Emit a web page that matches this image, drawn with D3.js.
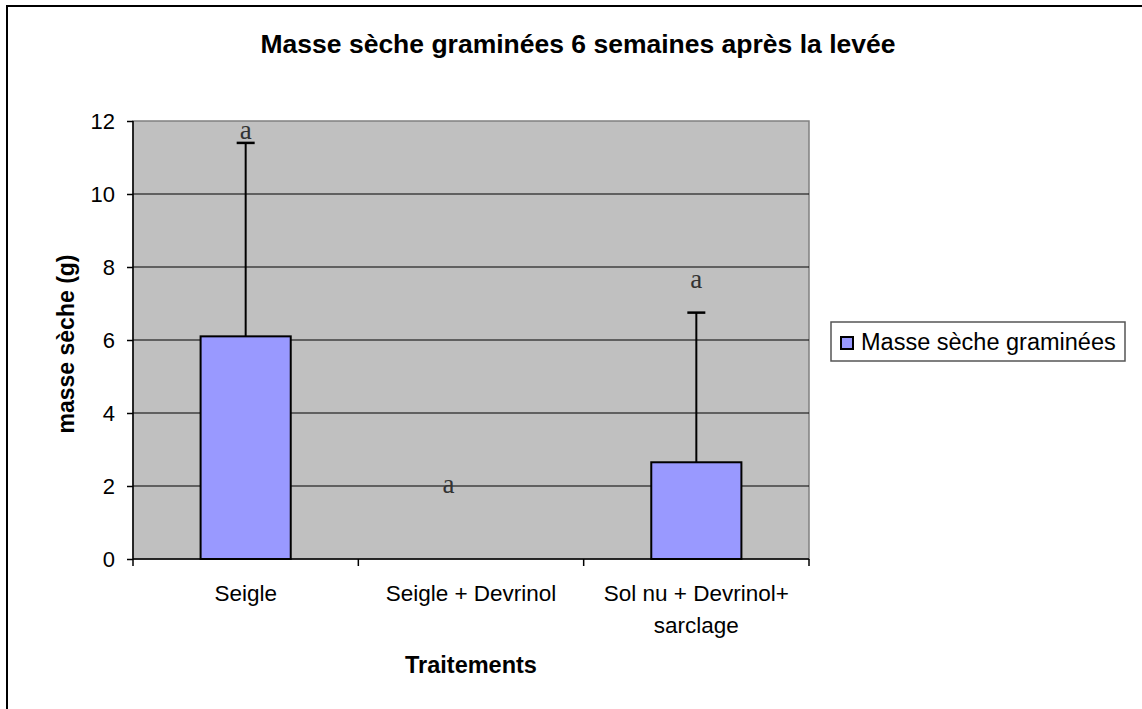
<!DOCTYPE html>
<html>
<head>
<meta charset="utf-8">
<script src="https://cdn.jsdelivr.net/npm/d3@7"></script>
<style>
  body { margin: 0; background: #fff; }
  svg text { font-family: "Liberation Sans", Arial, sans-serif; }
</style>
</head>
<body>
<svg id="chart" width="1142" height="709"></svg>
<script>
/** Data */
var categories = [["Seigle"], ["Seigle + Devrinol"], ["Sol nu + Devrinol+", "sarclage"]];
var values = [6.1, 0, 2.65];
var errors = [5.3, 0, 4.1];
var letters = ["a", "a", "a"];
/** letter anchors, in (category, value) units */
var letterCat = [0, 0.9, 2];
var letterVal = [11.7, 2.0, 7.6];
var yTicks = [0, 2, 4, 6, 8, 10, 12];

var seriesName = "Masse sèche graminées",
    title = "Masse sèche graminées 6 semaines après la levée",
    xTitle = "Traitements",
    yTitle = "masse sèche (g)";

/** Plot area */
var plot = {left: 133, top: 121, right: 809, bottom: 559};

var svg = d3.select("#chart");

// outer frame, open on the right and bottom
svg.append("rect")
    .attr("x", 7).attr("y", 6)
    .attr("width", 1200).attr("height", 800)
    .attr("fill", "none").attr("stroke", "#000").attr("stroke-width", 2);

var x = d3.scaleBand()
    .domain(d3.range(categories.length))
    .range([plot.left, plot.right]);

var y = d3.scaleLinear()
    .domain([0, 12])
    .range([plot.bottom, plot.top]);

function catCenter(c) {
    return plot.left + (c + 0.5) * x.step();
}

// grey background
svg.append("rect")
    .attr("x", plot.left).attr("y", plot.top)
    .attr("width", plot.right - plot.left).attr("height", plot.bottom - plot.top)
    .attr("fill", "#c0c0c0")
    .attr("stroke", "#808080").attr("stroke-width", 1.5);

// gridlines
svg.append("g").selectAll("line")
    .data(yTicks.filter(function(d) { return d > 0 && d < 12; }))
    .enter().append("line")
    .attr("x1", plot.left).attr("x2", plot.right)
    .attr("y1", function(d) { return y(d); })
    .attr("y2", function(d) { return y(d); })
    .attr("stroke", "#000").attr("stroke-width", 1.2);

// bars
var barW = x.bandwidth() * 0.4;
svg.append("g").selectAll("rect")
    .data(values.map(function(v, i) { return {v: v, i: i}; }).filter(function(d) { return d.v > 0; }))
    .enter().append("rect")
    .attr("x", function(d) { return x(d.i) + (x.bandwidth() - barW) / 2; })
    .attr("y", function(d) { return y(d.v); })
    .attr("width", barW)
    .attr("height", function(d) { return y(0) - y(d.v); })
    .attr("fill", "#9999ff")
    .attr("stroke", "#000").attr("stroke-width", 2);

// error bars (upper only)
var eb = svg.append("g");
values.forEach(function(v, i) {
    if (errors[i] <= 0) return;
    var cx = x(i) + x.bandwidth() / 2;
    eb.append("line")
        .attr("x1", cx).attr("x2", cx)
        .attr("y1", y(v)).attr("y2", y(v + errors[i]))
        .attr("stroke", "#000").attr("stroke-width", 2);
    eb.append("line")
        .attr("x1", cx - 9).attr("x2", cx + 9)
        .attr("y1", y(v + errors[i])).attr("y2", y(v + errors[i]))
        .attr("stroke", "#000").attr("stroke-width", 2.5);
});

// significance letters
svg.append("g").selectAll("text")
    .data(letters)
    .enter().append("text")
    .attr("x", function(d, i) { return catCenter(letterCat[i]); })
    .attr("y", function(d, i) { return y(letterVal[i]); })
    .attr("dy", "0.25em")
    .attr("text-anchor", "middle")
    .style("font-family", "'Liberation Serif', 'Times New Roman', serif")
    .style("font-size", "27px")
    .attr("fill", "#333")
    .text(function(d) { return d; });

// y axis
var yAxis = svg.append("g")
    .attr("transform", "translate(" + plot.left + ",0)")
    .call(d3.axisLeft(y).tickValues(yTicks).tickSize(6).tickPadding(12));
yAxis.select(".domain").attr("stroke", "#000").attr("stroke-width", 1.5).attr("d", "M0," + plot.top + "V" + plot.bottom);
yAxis.selectAll("line").attr("stroke-width", 1.5);
yAxis.selectAll("text").style("font-size", "22px").attr("fill", "#000");

// x axis: ticks at category boundaries
var xAxis = svg.append("g");
xAxis.append("line")
    .attr("x1", plot.left).attr("x2", plot.right)
    .attr("y1", plot.bottom).attr("y2", plot.bottom)
    .attr("stroke", "#000").attr("stroke-width", 1.5);
xAxis.selectAll(".tick")
    .data(d3.range(categories.length + 1))
    .enter().append("line")
    .attr("x1", function(d) { return plot.left + d * x.step(); })
    .attr("x2", function(d) { return plot.left + d * x.step(); })
    .attr("y1", plot.bottom).attr("y2", plot.bottom + 7)
    .attr("stroke", "#000").attr("stroke-width", 1.5);

var xLabels = xAxis.selectAll(".lab")
    .data(categories)
    .enter().append("text")
    .attr("text-anchor", "middle")
    .style("font-size", "22.5px")
    .attr("fill", "#000");
xLabels.each(function(lines, i) {
    var t = d3.select(this);
    lines.forEach(function(s, k) {
        t.append("tspan")
            .attr("x", x(i) + x.bandwidth() / 2)
            .attr("y", 601 + k * 32)
            .text(s);
    });
});

// titles
svg.append("text")
    .attr("x", 578).attr("y", 53)
    .attr("text-anchor", "middle")
    .style("font-size", "26.5px").style("font-weight", "bold")
    .text(title);

svg.append("text")
    .attr("x", (plot.left + plot.right) / 2).attr("y", 673)
    .attr("text-anchor", "middle")
    .style("font-size", "23.5px").style("font-weight", "bold")
    .text(xTitle);

svg.append("text")
    .attr("transform", "translate(74," + 344 + ") rotate(-90)")
    .attr("text-anchor", "middle")
    .style("font-size", "23px").style("font-weight", "bold")
    .text(yTitle);

// legend
var legend = svg.append("g").attr("transform", "translate(831,322)");
legend.append("rect")
    .attr("width", 294).attr("height", 39)
    .attr("fill", "#fff").attr("stroke", "#555").attr("stroke-width", 1.5);
legend.append("rect")
    .attr("x", 10).attr("y", 15).attr("width", 12).attr("height", 12)
    .attr("fill", "#9999ff").attr("stroke", "#000").attr("stroke-width", 2);
legend.append("text")
    .attr("x", 30).attr("y", 28)
    .style("font-size", "23.5px")
    .text(seriesName);
</script>
</body>
</html>
